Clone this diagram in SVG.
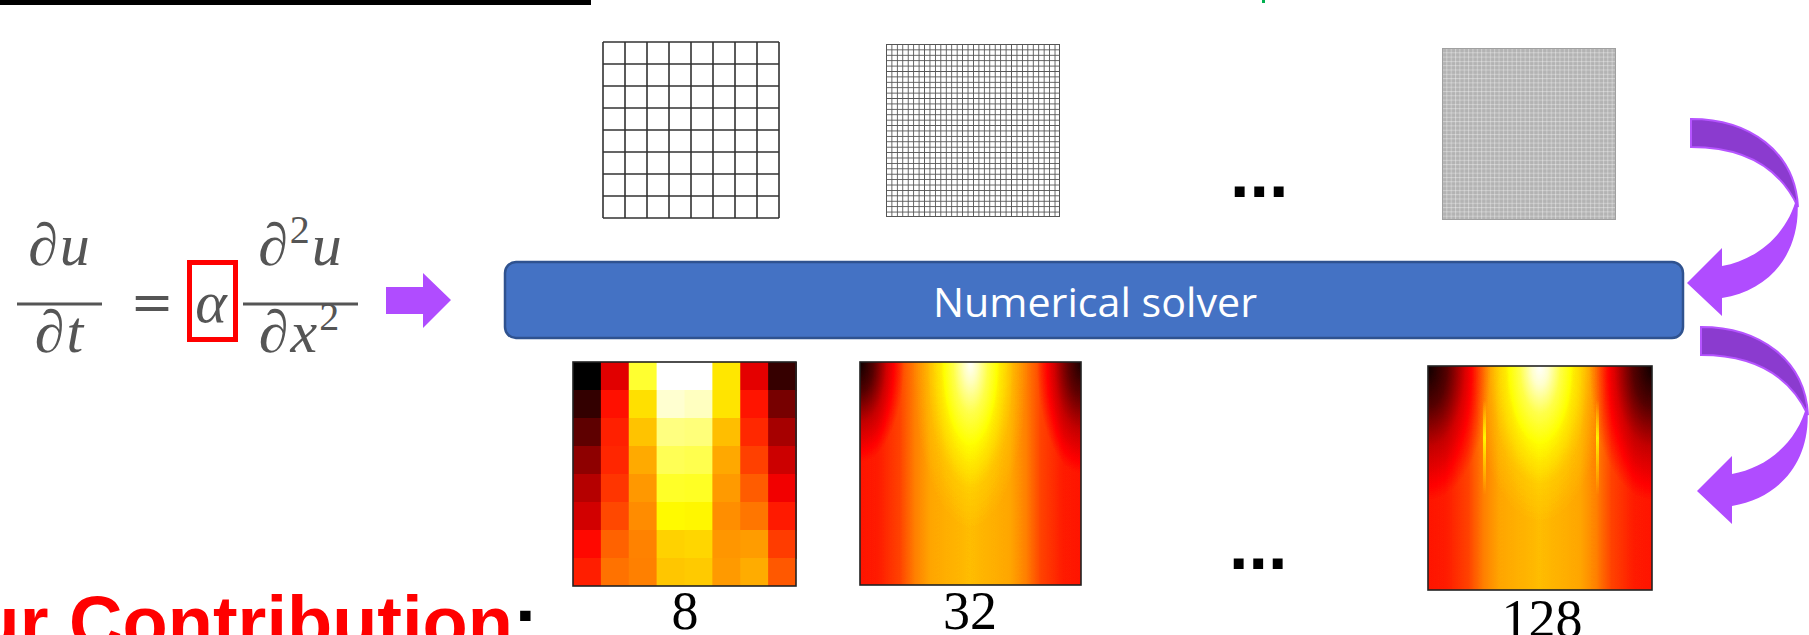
<svg xmlns="http://www.w3.org/2000/svg" width="1809" height="635" viewBox="0 0 1809 635">
<style>
.eq{font-family:'Liberation Serif','DejaVu Serif',serif;font-style:italic;fill:#555;font-size:60px;letter-spacing:2px}
.up{font-style:normal}
.num{font-family:'Liberation Serif','DejaVu Serif',serif;font-size:54px;fill:#000;text-anchor:middle}
.dots{font-family:'Liberation Sans',Arial,sans-serif;font-weight:bold;font-size:70px;fill:#000}
.frame{fill:none;stroke:#222;stroke-width:1.6}
.back{fill:#8B3BCF;stroke:#B554FF;stroke-width:2}
.front{fill:#B04CFF}
</style>
<defs>
<filter id="hot" x="0" y="0" width="1" height="1" color-interpolation-filters="sRGB">
<feComponentTransfer>
<feFuncR type="table" tableValues="0 1 1 1"/>
<feFuncG type="table" tableValues="0 0 1 1"/>
<feFuncB type="table" tableValues="0 0 0 1"/>
</feComponentTransfer>
</filter>
<linearGradient id="hbase" x1="0" y1="0" x2="1" y2="0">
<stop offset="0" stop-color="#5c5c5c"/>
<stop offset="0.08" stop-color="#5e5e5e"/>
<stop offset="0.18" stop-color="#6b6b6b"/>
<stop offset="0.25" stop-color="#808080"/>
<stop offset="0.32" stop-color="#8c8c8c"/>
<stop offset="0.5" stop-color="#949494"/>
<stop offset="0.68" stop-color="#8c8c8c"/>
<stop offset="0.75" stop-color="#808080"/>
<stop offset="0.82" stop-color="#6b6b6b"/>
<stop offset="0.92" stop-color="#5e5e5e"/>
<stop offset="1" stop-color="#5c5c5c"/>
</linearGradient>
<radialGradient id="glow" cx="0" cy="0" r="1" gradientTransform="translate(0.5 0) scale(0.3 0.7)">
<stop offset="0" stop-color="#fff" stop-opacity="1"/>
<stop offset="0.12" stop-color="#fff" stop-opacity="0.85"/>
<stop offset="0.3" stop-color="#fff" stop-opacity="0.45"/>
<stop offset="0.5" stop-color="#fff" stop-opacity="0.2"/>
<stop offset="0.75" stop-color="#fff" stop-opacity="0.06"/>
<stop offset="1" stop-color="#fff" stop-opacity="0"/>
</radialGradient>
<radialGradient id="glow2" cx="0" cy="0" r="1" gradientTransform="translate(0.5 0) scale(0.26 0.75)">
<stop offset="0" stop-color="#fff" stop-opacity="1"/>
<stop offset="0.12" stop-color="#fff" stop-opacity="0.8"/>
<stop offset="0.3" stop-color="#fff" stop-opacity="0.45"/>
<stop offset="0.5" stop-color="#fff" stop-opacity="0.2"/>
<stop offset="0.75" stop-color="#fff" stop-opacity="0.06"/>
<stop offset="1" stop-color="#fff" stop-opacity="0"/>
</radialGradient>
<radialGradient id="darkL" cx="0" cy="0" r="1" gradientTransform="translate(0 0) scale(0.28 0.6)">
<stop offset="0" stop-color="#000" stop-opacity="0.95"/>
<stop offset="0.3" stop-color="#000" stop-opacity="0.7"/>
<stop offset="0.6" stop-color="#000" stop-opacity="0.3"/>
<stop offset="1" stop-color="#000" stop-opacity="0"/>
</radialGradient>
<radialGradient id="darkR" cx="0" cy="0" r="1" gradientTransform="translate(1 0) scale(0.28 0.6)">
<stop offset="0" stop-color="#000" stop-opacity="0.95"/>
<stop offset="0.3" stop-color="#000" stop-opacity="0.7"/>
<stop offset="0.6" stop-color="#000" stop-opacity="0.3"/>
<stop offset="1" stop-color="#000" stop-opacity="0"/>
</radialGradient>
<radialGradient id="darkL2" cx="0" cy="0" r="1" gradientTransform="translate(0 0) scale(0.2 0.45)">
<stop offset="0" stop-color="#000" stop-opacity="0.95"/>
<stop offset="0.3" stop-color="#000" stop-opacity="0.7"/>
<stop offset="0.6" stop-color="#000" stop-opacity="0.3"/>
<stop offset="1" stop-color="#000" stop-opacity="0"/>
</radialGradient>
<radialGradient id="darkR2" cx="0" cy="0" r="1" gradientTransform="translate(1 0) scale(0.2 0.5)">
<stop offset="0" stop-color="#000" stop-opacity="0.9"/>
<stop offset="0.3" stop-color="#000" stop-opacity="0.65"/>
<stop offset="0.6" stop-color="#000" stop-opacity="0.3"/>
<stop offset="1" stop-color="#000" stop-opacity="0"/>
</radialGradient>
<linearGradient id="streak" x1="0" y1="0" x2="0" y2="1">
<stop offset="0" stop-color="#fff" stop-opacity="0"/>
<stop offset="0.4" stop-color="#fff" stop-opacity="0.3"/>
<stop offset="1" stop-color="#fff" stop-opacity="0"/>
</linearGradient>
<pattern id="fine32" patternUnits="userSpaceOnUse" x="886" y="44" width="5.4375" height="5.40625">
<rect width="5.4375" height="0.9" fill="#555"/>
<rect width="0.9" height="5.40625" fill="#555"/>
</pattern>
<pattern id="fine128" patternUnits="userSpaceOnUse" x="1442" y="48" width="4.35" height="4.3">
<rect width="4.35" height="1" fill="#fff" fill-opacity="0.35"/>
<rect width="1" height="4.3" fill="#fff" fill-opacity="0.35"/>
</pattern>
</defs>

<rect x="0" y="0" width="1809" height="635" fill="#fff"/>

<g id="title-bar">
<rect x="0" y="0" width="591" height="5" fill="#000"/>
<rect x="1262" y="0" width="3" height="3" fill="#00B050"/>
</g>

<g id="equation">
<text class="eq" x="60" y="265" text-anchor="middle">∂u</text>
<rect x="17" y="302.5" width="85" height="3" fill="#555"/>
<text class="eq" x="60" y="352" text-anchor="middle">∂t</text>
<text x="152" y="320" text-anchor="middle" font-family="'DejaVu Serif',serif" font-size="52" fill="#555">=</text>
<text class="eq" x="212" y="322" text-anchor="middle" font-size="64">α</text>
<rect x="189.5" y="262.5" width="46" height="77" fill="none" stroke="#FF0000" stroke-width="5"/>
<text class="eq" x="301" y="265" text-anchor="middle">∂<tspan class="up" font-size="40" dy="-22">2</tspan><tspan dy="22">u</tspan></text>
<rect x="243" y="302.5" width="115" height="3" fill="#555"/>
<text class="eq" x="300" y="352" text-anchor="middle">∂x<tspan class="up" font-size="40" dy="-22">2</tspan></text>
</g>

<g id="grid-8">
<path d="M603 42V218M625 42V218M647 42V218M669 42V218M691 42V218M713 42V218M735 42V218M757 42V218M779 42V218M603 42H779M603 64H779M603 86H779M603 108H779M603 130H779M603 152H779M603 174H779M603 196H779M603 218H779" stroke="#333" stroke-width="1.6" fill="none"/>
</g>

<g id="grid-32">
<rect x="886" y="44" width="174" height="173" fill="url(#fine32)"/>
<rect x="886.5" y="44.5" width="173" height="172" fill="none" stroke="#555" stroke-width="1"/>
</g>

<g id="grid-128">
<rect x="1442" y="48" width="174" height="172" fill="#b3b3b3"/>
<rect x="1442" y="48" width="174" height="172" fill="url(#fine128)"/>
<rect x="1442.5" y="48.5" width="173" height="171" fill="none" stroke="#a0a0a0" stroke-width="1"/>
</g>

<g id="dots-top"><text class="dots" x="1230" y="197">...</text></g>

<g id="solver">
<rect x="505" y="262" width="1178" height="76" rx="11" fill="#4472C4" stroke="#2F528F" stroke-width="2.5"/>
<text x="1095" y="317" text-anchor="middle" font-family="'Open Sans','Noto Sans',sans-serif" font-size="40" fill="#fff" textLength="324" lengthAdjust="spacingAndGlyphs">Numerical solver</text>
</g>

<g id="heatmap-8">
<g transform="translate(573 362) scale(27.875 28)">
<rect x="0" y="0" width="1.03" height="1.03" fill="#000000"/><rect x="1" y="0" width="1.03" height="1.03" fill="#E10000"/><rect x="2" y="0" width="1.03" height="1.03" fill="#FFFF30"/><rect x="3" y="0" width="1.03" height="1.03" fill="#FFFFFF"/><rect x="4" y="0" width="1.03" height="1.03" fill="#FFFFFF"/><rect x="5" y="0" width="1.03" height="1.03" fill="#FFE700"/><rect x="6" y="0" width="1.03" height="1.03" fill="#E40000"/><rect x="7" y="0" width="1.03" height="1.03" fill="#360000"/>
<rect x="0" y="1" width="1.03" height="1.03" fill="#330000"/><rect x="1" y="1" width="1.03" height="1.03" fill="#FF1000"/><rect x="2" y="1" width="1.03" height="1.03" fill="#FFE000"/><rect x="3" y="1" width="1.03" height="1.03" fill="#FFFFD0"/><rect x="4" y="1" width="1.03" height="1.03" fill="#FFFFC0"/><rect x="5" y="1" width="1.03" height="1.03" fill="#FFE400"/><rect x="6" y="1" width="1.03" height="1.03" fill="#FF1400"/><rect x="7" y="1" width="1.03" height="1.03" fill="#770000"/>
<rect x="0" y="2" width="1.03" height="1.03" fill="#5E0000"/><rect x="1" y="2" width="1.03" height="1.03" fill="#FF2000"/><rect x="2" y="2" width="1.03" height="1.03" fill="#FFC300"/><rect x="3" y="2" width="1.03" height="1.03" fill="#FFFF80"/><rect x="4" y="2" width="1.03" height="1.03" fill="#FFFF7A"/><rect x="5" y="2" width="1.03" height="1.03" fill="#FFBE00"/><rect x="6" y="2" width="1.03" height="1.03" fill="#FF2800"/><rect x="7" y="2" width="1.03" height="1.03" fill="#A60000"/>
<rect x="0" y="3" width="1.03" height="1.03" fill="#8E0000"/><rect x="1" y="3" width="1.03" height="1.03" fill="#FF2600"/><rect x="2" y="3" width="1.03" height="1.03" fill="#FFAA00"/><rect x="3" y="3" width="1.03" height="1.03" fill="#FFFF55"/><rect x="4" y="3" width="1.03" height="1.03" fill="#FFFF4E"/><rect x="5" y="3" width="1.03" height="1.03" fill="#FFA800"/><rect x="6" y="3" width="1.03" height="1.03" fill="#FF4000"/><rect x="7" y="3" width="1.03" height="1.03" fill="#CC0000"/>
<rect x="0" y="4" width="1.03" height="1.03" fill="#B50000"/><rect x="1" y="4" width="1.03" height="1.03" fill="#FF3500"/><rect x="2" y="4" width="1.03" height="1.03" fill="#FF9800"/><rect x="3" y="4" width="1.03" height="1.03" fill="#FFFF28"/><rect x="4" y="4" width="1.03" height="1.03" fill="#FFFF24"/><rect x="5" y="4" width="1.03" height="1.03" fill="#FF9A00"/><rect x="6" y="4" width="1.03" height="1.03" fill="#FF5C00"/><rect x="7" y="4" width="1.03" height="1.03" fill="#F20000"/>
<rect x="0" y="5" width="1.03" height="1.03" fill="#D20000"/><rect x="1" y="5" width="1.03" height="1.03" fill="#FF4800"/><rect x="2" y="5" width="1.03" height="1.03" fill="#FF8C00"/><rect x="3" y="5" width="1.03" height="1.03" fill="#FFFA00"/><rect x="4" y="5" width="1.03" height="1.03" fill="#FFF700"/><rect x="5" y="5" width="1.03" height="1.03" fill="#FF8E00"/><rect x="6" y="5" width="1.03" height="1.03" fill="#FF7600"/><rect x="7" y="5" width="1.03" height="1.03" fill="#FF1A00"/>
<rect x="0" y="6" width="1.03" height="1.03" fill="#FF0800"/><rect x="1" y="6" width="1.03" height="1.03" fill="#FF6200"/><rect x="2" y="6" width="1.03" height="1.03" fill="#FF8200"/><rect x="3" y="6" width="1.03" height="1.03" fill="#FFD200"/><rect x="4" y="6" width="1.03" height="1.03" fill="#FFD600"/><rect x="5" y="6" width="1.03" height="1.03" fill="#FF9600"/><rect x="6" y="6" width="1.03" height="1.03" fill="#FF9C00"/><rect x="7" y="6" width="1.03" height="1.03" fill="#FF3C00"/>
<rect x="0" y="7" width="1.03" height="1" fill="#FF1E00"/><rect x="1" y="7" width="1.03" height="1" fill="#FF7200"/><rect x="2" y="7" width="1.03" height="1" fill="#FF8000"/><rect x="3" y="7" width="1.03" height="1" fill="#FFC600"/><rect x="4" y="7" width="1.03" height="1" fill="#FFCA00"/><rect x="5" y="7" width="1.03" height="1" fill="#FF9A00"/><rect x="6" y="7" width="1.03" height="1" fill="#FFAC00"/><rect x="7" y="7" width="1" height="1" fill="#FF5800"/>
</g>
<rect class="frame" x="573" y="362" width="223" height="224"/>
<text class="num" x="685" y="629">8</text>
</g>

<g id="heatmap-32">
<g filter="url(#hot)">
<rect x="860" y="362" width="221" height="223" fill="url(#hbase)"/>
<rect x="860" y="362" width="221" height="223" fill="url(#glow2)"/>
<rect x="860" y="362" width="221" height="223" fill="url(#darkL2)"/>
<rect x="860" y="362" width="221" height="223" fill="url(#darkR2)"/>
</g>
<rect class="frame" x="860" y="362" width="221" height="223"/>
<text class="num" x="970" y="629">32</text>
</g>

<g id="heatmap-128">
<g filter="url(#hot)">
<rect x="1428" y="366" width="224" height="224" fill="url(#hbase)"/>
<rect x="1428" y="366" width="224" height="224" fill="url(#glow)"/>
<rect x="1428" y="366" width="224" height="224" fill="url(#darkL)"/>
<rect x="1428" y="366" width="224" height="224" fill="url(#darkR)"/>
<rect x="1483" y="400" width="3" height="95" fill="url(#streak)"/>
<rect x="1596" y="400" width="3" height="95" fill="url(#streak)"/>
</g>
<rect class="frame" x="1428" y="366" width="224" height="224"/>
<text class="num" x="1542" y="637">128</text>
</g>

<g id="dots-bottom"><text class="dots" x="1229" y="569">...</text></g>

<g id="contribution">
<text x="-83" y="648" font-family="'Liberation Sans',Arial,sans-serif" font-weight="bold" font-size="74" fill="#FF0000">Our Contribution<tspan fill="#000">:</tspan></text>
</g>

<g id="connectors">
<polygon points="386,287 423,287 423,273 451,300 423,328 423,314 386,314" fill="#B04CFF"/>
<g id="curved-arrow-top">
<path class="back" d="M1691,119 C1750,119 1795,152 1798,207 C1780,168 1745,147 1691,147 Z"/>
<path class="front" d="M1797,196 C1803,250 1772,290 1722,298 L1722,316 L1687,283 L1722,248 L1722,266 C1757,260 1788,234 1797,196 Z"/>
</g>
<g id="curved-arrow-bottom" transform="translate(10 208)">
<path class="back" d="M1691,119 C1750,119 1795,152 1798,207 C1780,168 1745,147 1691,147 Z"/>
<path class="front" d="M1797,196 C1803,250 1772,290 1722,298 L1722,316 L1687,283 L1722,248 L1722,266 C1757,260 1788,234 1797,196 Z"/>
</g>
</g>
</svg>
